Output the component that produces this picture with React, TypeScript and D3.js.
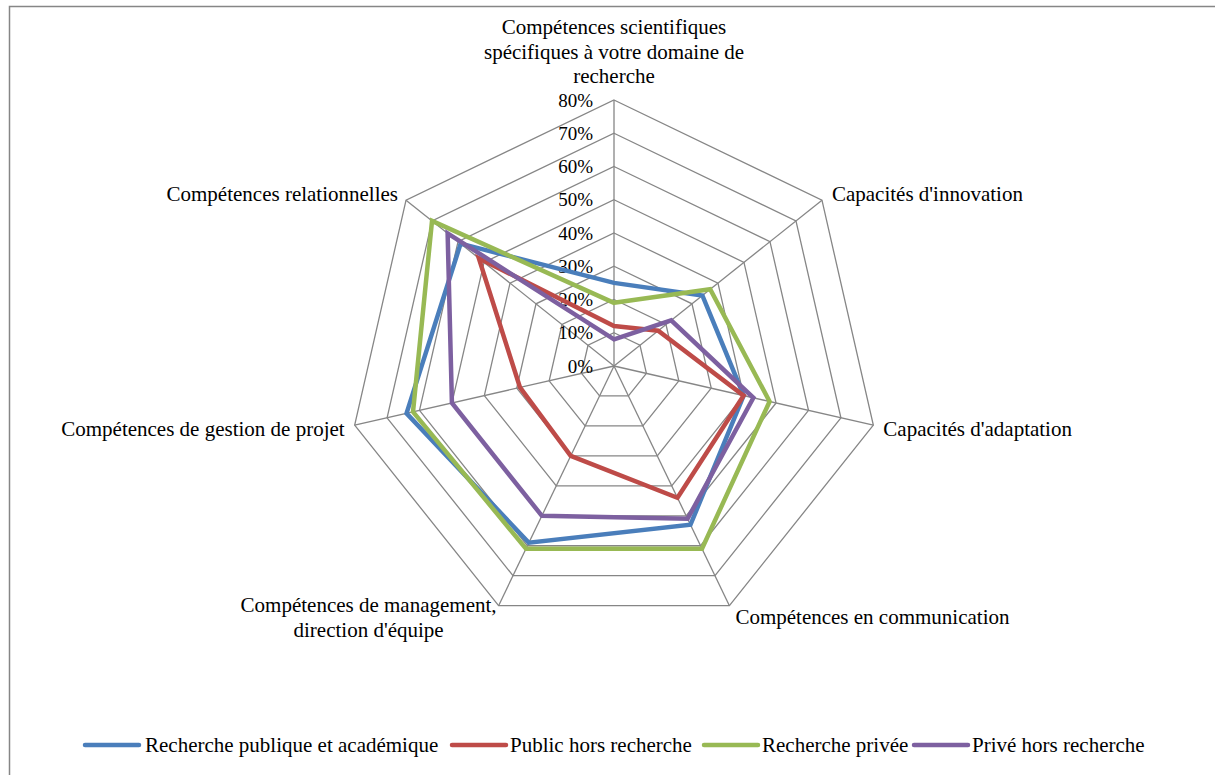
import React from 'react';
import * as d3 from 'd3';

const categories = [
  ['Compétences scientifiques', 'spécifiques à votre domaine de', 'recherche'],
  ["Capacités d'innovation"],
  ["Capacités d'adaptation"],
  ['Compétences en communication'],
  ['Compétences de management,', "direction d'équipe"],
  ['Compétences de gestion de projet'],
  ['Compétences relationnelles'],
];

const seriesNames = ['Recherche publique et académique', 'Public hors recherche', 'Recherche privée', 'Privé hors recherche'];
const seriesColors = ['#4A7EBB', '#BE4B48', '#98B954', '#7D60A0'];

const publicAcad = [0.25, 0.34, 0.40, 0.53, 0.59, 0.64, 0.59];
const publicHors = [0.12, 0.17, 0.40, 0.44, 0.30, 0.29, 0.52];
const priveeRech = [0.19, 0.37, 0.48, 0.61, 0.61, 0.62, 0.70];
const priveHors = [0.08, 0.22, 0.43, 0.51, 0.50, 0.50, 0.64];
const seriesValues = [publicAcad, publicHors, priveeRech, priveHors];

const ticks = [0, 0.1, 0.2, 0.3, 0.4, 0.5, 0.6, 0.7, 0.8];

const W = 1215;
const H = 775;
const cx = 614;
const cy = 366;
const FONT = 'Liberation Serif';
const GRID = '#868686';

// label anchor placement per axis: [dx, dy, anchor]
const labelPos: [number, number, string][] = [
  [0, 0, 'middle'],
  [10, 0, 'start'],
  [10, 10, 'start'],
  [6, 18, 'start'],
  [-130, 0, 'middle'],
  [-10, 10, 'end'],
  [-8, 0, 'end'],
];

export default function App() {
  const r = d3.scaleLinear().domain([0, 0.8]).range([0, 266]);
  const n = categories.length;
  const angle = (i: number) => (i * 2 * Math.PI) / n;
  const pt = (i: number, v: number): [number, number] => [
    cx + r(v) * Math.sin(angle(i)),
    cy - r(v) * Math.cos(angle(i)),
  ];

  const line = d3.line<[number, number]>().curve(d3.curveLinearClosed);
  const txt = { fontFamily: FONT, fontSize: 21 };
  const tickTxt = { fontFamily: FONT, fontSize: 19 };

  const legendItems = [
    { x: 85, tx: 145 },
    { x: 452, tx: 510 },
    { x: 704, tx: 762 },
    { x: 914, tx: 972 },
  ];

  return (
    <div style={{ position: 'absolute', left: 0, top: 0 }}>
      <svg width={W} height={H} style={{ display: 'block', background: '#fff' }}>
        <rect x={9.5} y={6.5} width={W + 10} height={H + 10} fill="#fff" stroke={GRID} strokeWidth={1.5} />

        {/* rings */}
        {ticks.slice(1).map((t) => (
          <path
            key={t}
            d={line(d3.range(n).map((i) => pt(i, t))) || ''}
            fill="none"
            stroke={GRID}
            strokeWidth={1.3}
          />
        ))}
        {/* spokes */}
        {d3.range(n).map((i) => {
          const [x, y] = pt(i, 0.8);
          return <line key={i} x1={cx} y1={cy} x2={x} y2={y} stroke={GRID} strokeWidth={1.3} />;
        })}

        {/* tick labels */}
        {ticks.map((t) => (
          <text key={t} x={cx - 21} y={cy - r(t)} dy="0.35em" textAnchor="end" fill="#000" style={tickTxt}>
            {d3.format('.0%')(t)}
          </text>
        ))}

        {/* series */}
        {seriesValues.map((vals, s) => (
          <path
            key={s}
            d={line(vals.map((v, i) => pt(i, v))) || ''}
            fill="none"
            stroke={seriesColors[s]}
            strokeWidth={4.5}
            strokeLinejoin="miter"
          />
        ))}

        {/* category labels */}
        {categories.map((lines, i) => {
          const [x, y] = pt(i, 0.8);
          const [dx, dy, anchor] = labelPos[i];
          const lh = 24.5;
          let y0: number;
          if (i === 0) y0 = y - 24 - (lines.length - 1) * lh;
          else if (i === 4) y0 = y - 1;
          else y0 = y - ((lines.length - 1) * lh) / 2 + dy - 7;
          return (
            <text key={i} textAnchor={anchor} fill="#000" style={txt}>
              {lines.map((l, k) => (
                <tspan key={k} x={x + dx} y={y0 + k * lh} dy="0.35em">
                  {l}
                </tspan>
              ))}
            </text>
          );
        })}

        {/* legend */}
        {seriesNames.map((name, s) => (
          <g key={name}>
            <line
              x1={legendItems[s].x}
              x2={legendItems[s].x + 54}
              y1={745}
              y2={745}
              stroke={seriesColors[s]}
              strokeWidth={4.5}
              strokeLinecap="round"
            />
            <text x={legendItems[s].tx} y={745} dy="0.35em" fill="#000" style={txt}>
              {name}
            </text>
          </g>
        ))}
      </svg>
    </div>
  );
}
